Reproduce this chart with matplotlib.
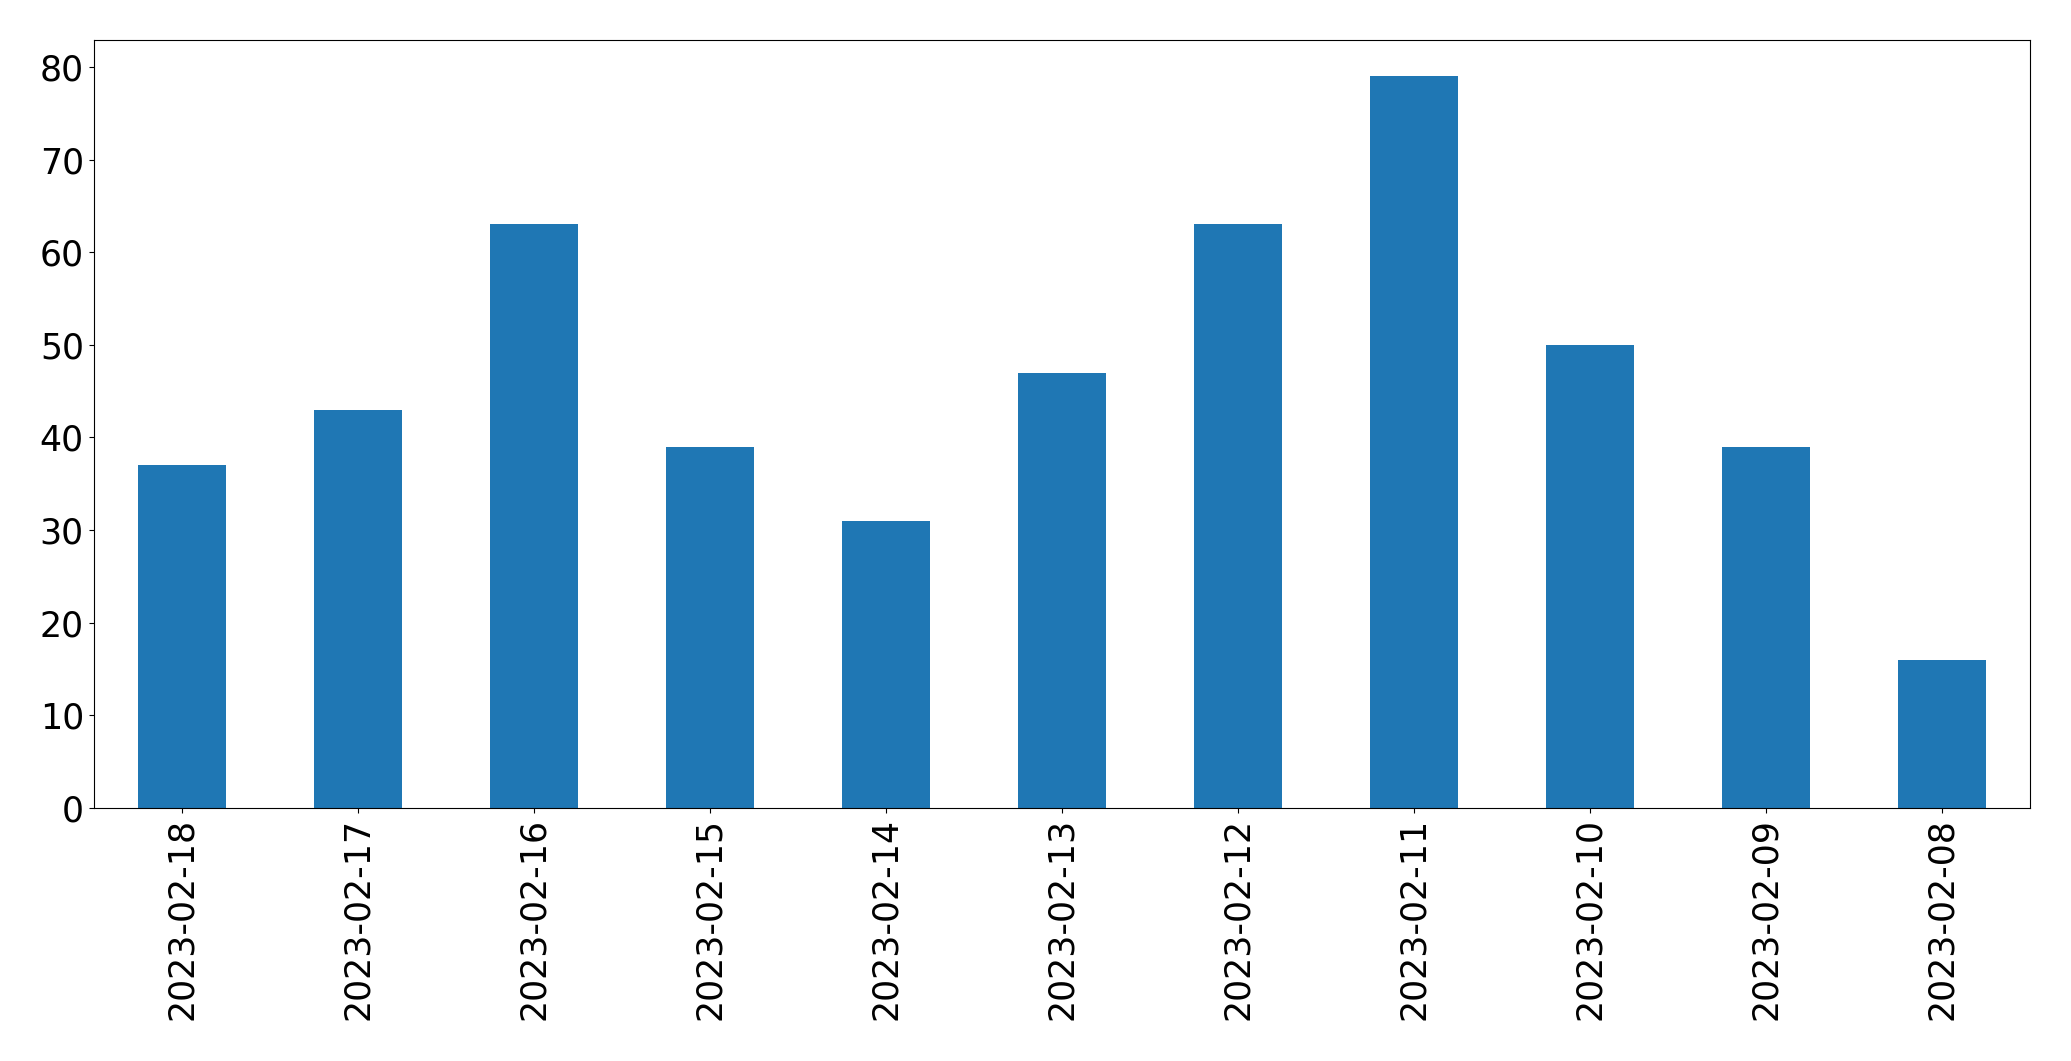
import matplotlib
matplotlib.use("Agg")
import matplotlib.pyplot as plt
import pandas as pd

dates = [
    "2023-02-18", "2023-02-17", "2023-02-16", "2023-02-15", "2023-02-14",
    "2023-02-13", "2023-02-12", "2023-02-11", "2023-02-10", "2023-02-09",
    "2023-02-08",
]
counts = [37, 43, 63, 39, 31, 47, 63, 79, 50, 39, 16]

s = pd.Series(counts, index=dates)

fig = plt.figure(figsize=(20.71, 10.61), dpi=100)
ax = fig.add_axes([0.0452, 0.2385, 0.9348, 0.7242])
s.plot(kind="bar", ax=ax, color="#1f77b4", width=0.5)
ax.tick_params(axis="both", labelsize=25)
ax.set_yticks(range(0, 81, 10))
fig.savefig("out.png", dpi=100)
